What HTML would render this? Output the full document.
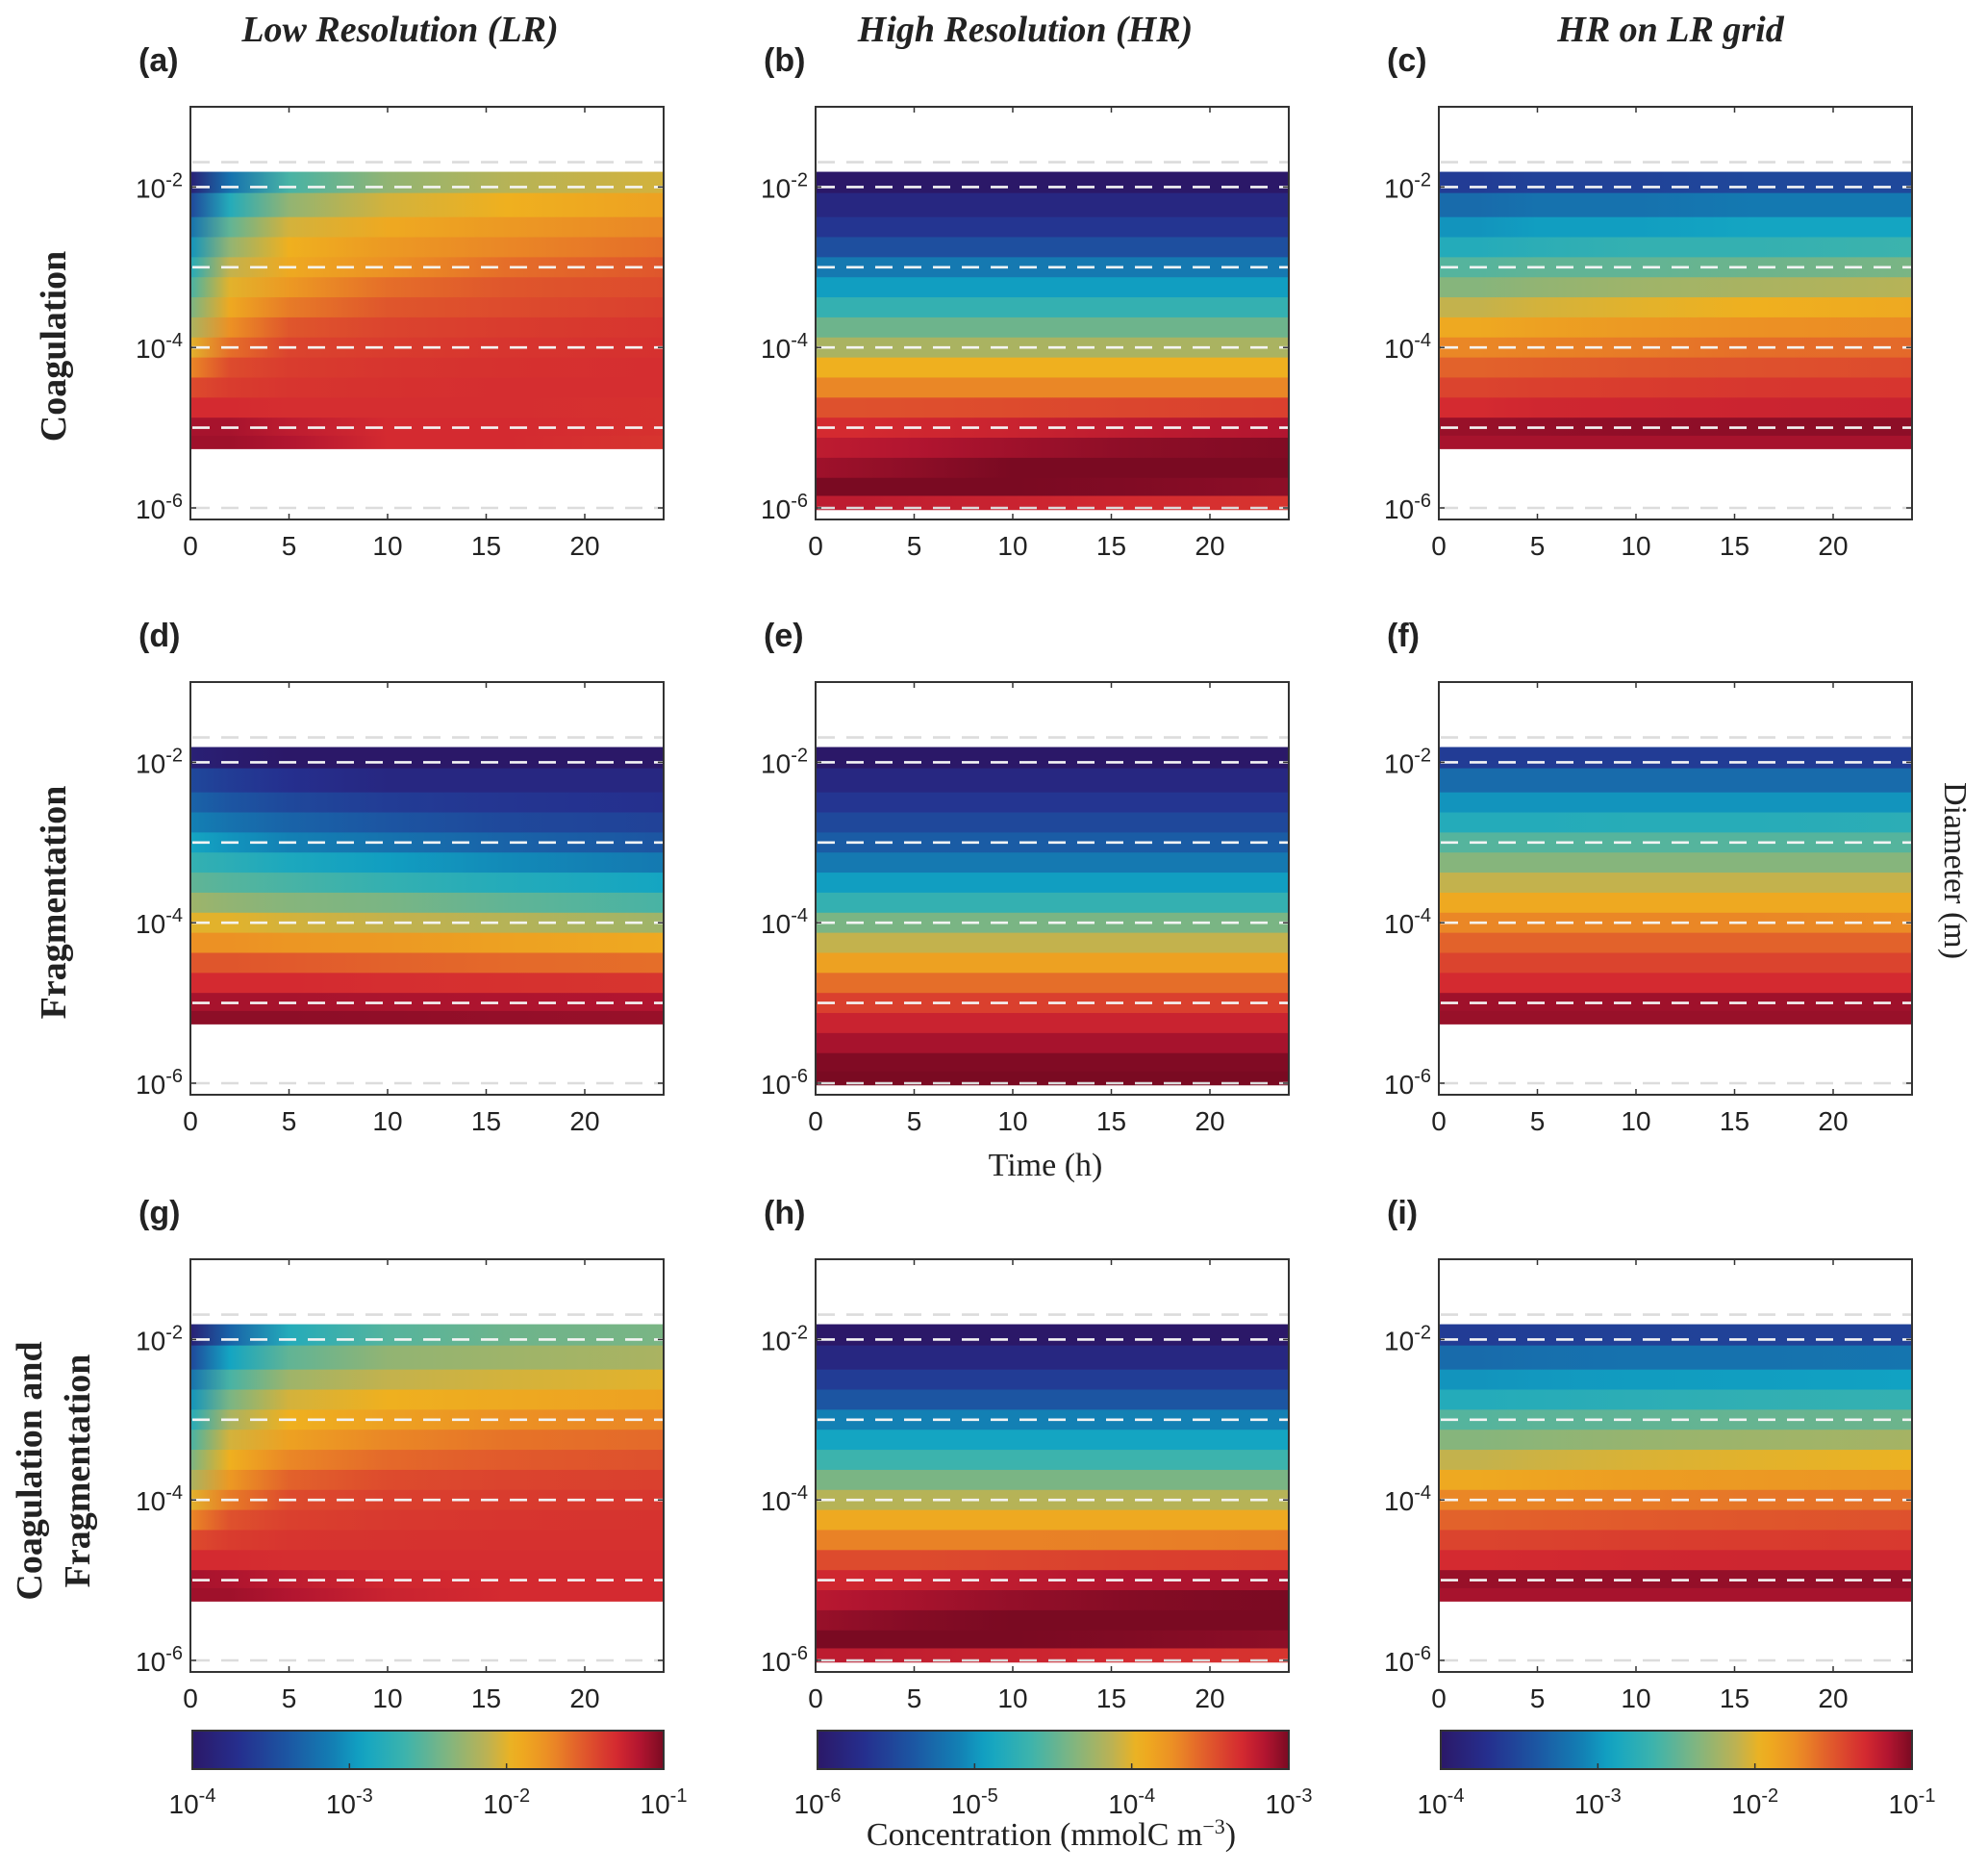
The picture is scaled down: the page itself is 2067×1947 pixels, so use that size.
<!DOCTYPE html>
<html><head><meta charset="utf-8">
<style>
body{margin:0;background:#fff;}
svg{display:block;}
text{font-family:"Liberation Sans",sans-serif;fill:#222;}
.serif{font-family:"Liberation Serif",serif;}
</style></head>
<body>
<svg id="fig" width="2067" height="1947" viewBox="0 0 2067 1947" xmlns="http://www.w3.org/2000/svg">
<defs id="defs"></defs>
</svg>
<script>
// ---------- data ----------
const times = [0, 2, 5, 10, 16, 24];
const xTicks = [0, 5, 10, 15, 20];
const yTickExps = [-2, -4, -6];
const cbExpsLR = [-4, -3, -2, -1];
const cbExpsHR = [-6, -5, -4, -3];
const lrDiam = [-1.9,-2.25,-2.5,-2.75,-3,-3.25,-3.5,-3.75,-4,-4.25,-4.5,-4.75,-5,-5.2];
const hrDiam = [-1.9,-2.25,-2.5,-2.75,-3,-3.25,-3.5,-3.75,-4,-4.25,-4.5,-4.75,-5,-5.25,-5.5,-5.75,-5.95];
const lrBand = [-1.81, -5.26];
const hrBand = [-1.81, -6.02];
const whiteDashExps = [-2, -3, -4, -5];
const greyDashExps = [-1.69, -6];

const valsA = [
[-3.9,-3.2,-2.6,-2.3,-2.15,-2.05],
[-3.5,-2.8,-2.3,-2.05,-1.95,-1.85],
[-3.2,-2.5,-2.05,-1.9,-1.8,-1.7],
[-3.0,-2.3,-1.95,-1.8,-1.7,-1.6],
[-2.8,-2.1,-1.9,-1.75,-1.6,-1.5],
[-2.6,-2.0,-1.8,-1.6,-1.5,-1.45],
[-2.4,-1.9,-1.65,-1.5,-1.45,-1.4],
[-2.2,-1.75,-1.5,-1.42,-1.38,-1.35],
[-2.0,-1.6,-1.42,-1.38,-1.35,-1.33],
[-1.7,-1.45,-1.38,-1.35,-1.33,-1.32],
[-1.45,-1.38,-1.35,-1.33,-1.32,-1.32],
[-1.3,-1.3,-1.32,-1.32,-1.32,-1.33],
[-1.12,-1.12,-1.2,-1.3,-1.3,-1.33],
[-1.1,-1.1,-1.15,-1.3,-1.3,-1.35]];
const valsD = [
[-3.9,-3.95,-4,-4,-4,-4],
[-3.5,-3.6,-3.7,-3.8,-3.8,-3.8],
[-3.3,-3.4,-3.5,-3.6,-3.65,-3.7],
[-3.1,-3.2,-3.3,-3.4,-3.5,-3.55],
[-2.9,-3.0,-3.1,-3.2,-3.3,-3.4],
[-2.7,-2.75,-2.85,-2.95,-3.05,-3.15],
[-2.5,-2.55,-2.6,-2.7,-2.8,-2.9],
[-2.25,-2.3,-2.35,-2.4,-2.5,-2.6],
[-2.0,-2.0,-2.05,-2.1,-2.15,-2.25],
[-1.75,-1.75,-1.78,-1.8,-1.85,-1.9],
[-1.5,-1.5,-1.52,-1.55,-1.58,-1.6],
[-1.3,-1.3,-1.3,-1.32,-1.33,-1.35],
[-1.12,-1.12,-1.12,-1.13,-1.14,-1.15],
[-1.05,-1.05,-1.05,-1.06,-1.07,-1.08]];
const valsG = [
[-3.9,-3.3,-2.8,-2.55,-2.45,-2.4],
[-3.5,-2.9,-2.5,-2.3,-2.25,-2.2],
[-3.2,-2.6,-2.25,-2.1,-2.05,-2.0],
[-3.0,-2.4,-2.05,-1.95,-1.9,-1.85],
[-2.8,-2.2,-1.95,-1.85,-1.75,-1.7],
[-2.6,-2.05,-1.85,-1.7,-1.62,-1.58],
[-2.4,-1.95,-1.7,-1.58,-1.52,-1.48],
[-2.2,-1.8,-1.55,-1.45,-1.42,-1.4],
[-2.0,-1.65,-1.45,-1.4,-1.38,-1.36],
[-1.7,-1.48,-1.4,-1.37,-1.35,-1.34],
[-1.45,-1.38,-1.35,-1.34,-1.33,-1.33],
[-1.3,-1.3,-1.32,-1.32,-1.32,-1.32],
[-1.12,-1.14,-1.2,-1.28,-1.3,-1.3],
[-1.1,-1.1,-1.15,-1.25,-1.3,-1.3]];
const valsC = [
[-3.6,-3.6,-3.55,-3.55,-3.5,-3.5],
[-3.25,-3.25,-3.2,-3.2,-3.15,-3.15],
[-3.0,-3.0,-2.95,-2.95,-2.9,-2.9],
[-2.8,-2.8,-2.75,-2.7,-2.7,-2.65],
[-2.55,-2.55,-2.5,-2.5,-2.45,-2.4],
[-2.35,-2.35,-2.3,-2.25,-2.2,-2.15],
[-2.1,-2.1,-2.05,-2.0,-1.95,-1.9],
[-1.9,-1.9,-1.85,-1.8,-1.75,-1.72],
[-1.7,-1.7,-1.68,-1.65,-1.6,-1.58],
[-1.55,-1.55,-1.53,-1.5,-1.48,-1.45],
[-1.42,-1.42,-1.4,-1.38,-1.36,-1.35],
[-1.3,-1.3,-1.28,-1.27,-1.26,-1.25],
[-1.08,-1.08,-1.07,-1.06,-1.05,-1.05],
[-1.12,-1.12,-1.12,-1.12,-1.12,-1.12]];
const valsF = [
[-3.6,-3.6,-3.6,-3.6,-3.6,-3.6],
[-3.25,-3.25,-3.25,-3.25,-3.25,-3.25],
[-3.0,-3.0,-3.0,-3.0,-3.0,-3.0],
[-2.8,-2.8,-2.8,-2.78,-2.78,-2.75],
[-2.55,-2.55,-2.55,-2.55,-2.55,-2.55],
[-2.35,-2.35,-2.35,-2.35,-2.35,-2.35],
[-2.1,-2.1,-2.1,-2.1,-2.1,-2.1],
[-1.9,-1.9,-1.9,-1.9,-1.9,-1.9],
[-1.7,-1.7,-1.7,-1.7,-1.7,-1.72],
[-1.55,-1.55,-1.55,-1.55,-1.55,-1.55],
[-1.42,-1.42,-1.42,-1.42,-1.42,-1.42],
[-1.3,-1.3,-1.3,-1.3,-1.3,-1.3],
[-1.1,-1.1,-1.1,-1.1,-1.1,-1.1],
[-1.08,-1.08,-1.08,-1.08,-1.08,-1.08]];
const valsI = [
[-3.6,-3.6,-3.58,-3.56,-3.55,-3.55],
[-3.25,-3.25,-3.22,-3.2,-3.2,-3.18],
[-3.0,-3.0,-2.98,-2.96,-2.95,-2.93],
[-2.8,-2.8,-2.78,-2.75,-2.72,-2.7],
[-2.55,-2.55,-2.52,-2.5,-2.48,-2.45],
[-2.35,-2.35,-2.32,-2.28,-2.25,-2.22],
[-2.1,-2.1,-2.07,-2.03,-2.0,-1.97],
[-1.9,-1.9,-1.87,-1.83,-1.8,-1.77],
[-1.7,-1.7,-1.69,-1.66,-1.63,-1.61],
[-1.55,-1.55,-1.54,-1.52,-1.5,-1.48],
[-1.42,-1.42,-1.41,-1.39,-1.38,-1.37],
[-1.3,-1.3,-1.29,-1.28,-1.27,-1.27],
[-1.08,-1.08,-1.08,-1.07,-1.07,-1.07],
[-1.12,-1.12,-1.12,-1.12,-1.12,-1.12]];
const valsB = [
[-6.0,-6.0,-6.0,-6.0,-6.0,-6.0],
[-5.8,-5.8,-5.8,-5.8,-5.8,-5.8],
[-5.65,-5.65,-5.65,-5.65,-5.65,-5.65],
[-5.45,-5.45,-5.45,-5.45,-5.45,-5.45],
[-5.15,-5.15,-5.15,-5.15,-5.15,-5.15],
[-4.95,-4.95,-4.95,-4.95,-4.95,-4.95],
[-4.7,-4.7,-4.7,-4.7,-4.7,-4.7],
[-4.45,-4.45,-4.45,-4.45,-4.45,-4.45],
[-4.2,-4.2,-4.2,-4.2,-4.2,-4.2],
[-3.95,-3.95,-3.95,-3.95,-3.95,-3.95],
[-3.7,-3.7,-3.7,-3.7,-3.7,-3.7],
[-3.48,-3.48,-3.47,-3.45,-3.43,-3.4],
[-3.3,-3.3,-3.28,-3.25,-3.2,-3.15],
[-3.2,-3.18,-3.15,-3.1,-3.05,-3.02],
[-3.1,-3.08,-3.05,-3.0,-2.98,-2.97],
[-3.0,-3.0,-3.0,-3.0,-3.02,-3.05],
[-3.2,-3.2,-3.22,-3.25,-3.3,-3.35]];
const valsE = [
[-6.0,-6.0,-6.0,-6.0,-6.0,-6.0],
[-5.8,-5.8,-5.8,-5.8,-5.8,-5.8],
[-5.65,-5.65,-5.65,-5.65,-5.65,-5.65],
[-5.5,-5.5,-5.5,-5.5,-5.5,-5.5],
[-5.35,-5.35,-5.35,-5.35,-5.35,-5.35],
[-5.15,-5.15,-5.15,-5.15,-5.15,-5.15],
[-4.95,-4.95,-4.95,-4.95,-4.95,-4.95],
[-4.7,-4.7,-4.7,-4.7,-4.7,-4.7],
[-4.4,-4.4,-4.4,-4.4,-4.4,-4.4],
[-4.1,-4.1,-4.1,-4.1,-4.1,-4.1],
[-3.85,-3.85,-3.85,-3.85,-3.85,-3.85],
[-3.6,-3.6,-3.6,-3.6,-3.6,-3.6],
[-3.4,-3.4,-3.4,-3.4,-3.4,-3.4],
[-3.25,-3.25,-3.25,-3.25,-3.25,-3.25],
[-3.12,-3.12,-3.12,-3.12,-3.12,-3.12],
[-3.02,-3.02,-3.02,-3.02,-3.02,-3.02],
[-3.0,-3.0,-3.0,-3.0,-3.0,-3.0]];
const valsH = [
[-6.0,-6.0,-6.0,-6.0,-6.0,-6.0],
[-5.8,-5.8,-5.8,-5.8,-5.8,-5.8],
[-5.6,-5.6,-5.6,-5.6,-5.6,-5.6],
[-5.4,-5.4,-5.4,-5.4,-5.4,-5.4],
[-5.1,-5.1,-5.1,-5.1,-5.1,-5.1],
[-4.9,-4.9,-4.9,-4.9,-4.9,-4.9],
[-4.65,-4.65,-4.65,-4.65,-4.65,-4.65],
[-4.4,-4.4,-4.4,-4.4,-4.4,-4.4],
[-4.15,-4.15,-4.15,-4.15,-4.15,-4.15],
[-3.9,-3.9,-3.9,-3.9,-3.9,-3.9],
[-3.68,-3.68,-3.68,-3.68,-3.67,-3.65],
[-3.45,-3.45,-3.45,-3.43,-3.4,-3.38],
[-3.28,-3.28,-3.25,-3.2,-3.15,-3.12],
[-3.18,-3.15,-3.12,-3.07,-3.03,-3.0],
[-3.08,-3.06,-3.03,-3.0,-2.98,-2.97],
[-3.0,-3.0,-3.0,-3.0,-3.02,-3.05],
[-3.2,-3.2,-3.22,-3.25,-3.3,-3.35]];

// ---------- colormap ----------
const cmap = [[0,'#2b1868'],[0.1,'#252f8e'],[0.2,'#1c55a2'],[0.3,'#1380b4'],[0.36,'#11a4c4'],[0.45,'#3cb3ad'],[0.55,'#86b57c'],[0.63,'#c0b250'],[0.68,'#efb21f'],[0.76,'#eb8c25'],[0.83,'#e0582c'],[0.9,'#d42a30'],[0.95,'#b21530'],[1,'#7a0a22']];
function hex2rgb(h){return [1,3,5].map(i=>parseInt(h.substr(i,2),16));}
function color(t){
  t=Math.max(0,Math.min(1,t));
  for(let i=1;i<cmap.length;i++){
    if(t<=cmap[i][0]){
      const a=cmap[i-1],b=cmap[i];const f=(t-a[0])/(b[0]-a[0]);
      const ca=hex2rgb(a[1]),cb=hex2rgb(b[1]);
      return 'rgb('+ca.map((v,k)=>Math.round(v+(cb[k]-v)*f)).join(',')+')';
    }
  }
  return cmap[cmap.length-1][1];
}

const NS='http://www.w3.org/2000/svg';
const svg=document.getElementById('fig');
const defs=document.getElementById('defs');
function el(tag,attrs,parent){const e=document.createElementNS(NS,tag);for(const k in attrs)e.setAttribute(k,attrs[k]);(parent||svg).appendChild(e);return e;}

const colX=[198,848,1496];
const rowY=[111,709,1309];
const PW=492, PH=429;
const panels=[
 {id:'a',c:0,r:0,d:lrDiam,v:valsA,band:lrBand,cb:cbExpsLR},
 {id:'b',c:1,r:0,d:hrDiam,v:valsB,band:hrBand,cb:cbExpsHR},
 {id:'c',c:2,r:0,d:lrDiam,v:valsC,band:lrBand,cb:cbExpsLR},
 {id:'d',c:0,r:1,d:lrDiam,v:valsD,band:lrBand,cb:cbExpsLR},
 {id:'e',c:1,r:1,d:hrDiam,v:valsE,band:hrBand,cb:cbExpsHR},
 {id:'f',c:2,r:1,d:lrDiam,v:valsF,band:lrBand,cb:cbExpsLR},
 {id:'g',c:0,r:2,d:lrDiam,v:valsG,band:lrBand,cb:cbExpsLR},
 {id:'h',c:1,r:2,d:hrDiam,v:valsH,band:hrBand,cb:cbExpsHR},
 {id:'i',c:2,r:2,d:lrDiam,v:valsI,band:lrBand,cb:cbExpsLR}];

function expLabel(parent,x,y,exp,anchor,name){
  const t=el('text',{x:x,y:y,'font-size':28,'text-anchor':anchor},parent);
  
  
  t.innerHTML='10<tspan dy="-12" font-size="20">'+(exp<0?'-':'')+Math.abs(exp)+'</tspan>';
  return t;
}

panels.forEach(p=>{
  const x0=colX[p.c], y0=rowY[p.r];
  const xs=t=>x0+t/24*PW;
  const ys=l=>y0+(-1-l)/(5.144)*PH;
  const cmin=p.cb[0], cmax=p.cb[p.cb.length-1];
  const g=el('g',{});
  
  
  el('rect',{x:x0,y:y0,width:PW,height:PH,fill:'#fff'},g);
  for(let i=0;i<p.d.length;i++){
    const top=i===0?p.band[0]:(p.d[i-1]+p.d[i])/2;
    const bot=i===p.d.length-1?p.band[1]:(p.d[i]+p.d[i+1])/2;
    const gid='gr-'+p.id+'-'+i;
    const lg=el('linearGradient',{id:gid,gradientUnits:'userSpaceOnUse',x1:xs(0),x2:xs(24),y1:0,y2:0},defs);
    times.forEach((t,j)=>{
      el('stop',{offset:(t/24),'stop-color':color((p.v[i][j]-cmin)/(cmax-cmin))},lg);
    });
    const r=el('rect',{x:xs(0),y:ys(top),width:xs(24)-xs(0),height:ys(bot)-ys(top)+0.6,fill:'url(#'+gid+')'},g);
    
    
  }
  whiteDashExps.forEach(e=>{
    const l=el('line',{x1:x0+2,x2:x0+PW,y1:ys(e),y2:ys(e),stroke:'#f4f4f4','stroke-width':2.6,'stroke-dasharray':'18 12'},g);
    
    
  });
  greyDashExps.forEach(e=>{
    const l=el('line',{x1:x0+2,x2:x0+PW,y1:ys(e),y2:ys(e),stroke:'#dcdcdc','stroke-width':2.6,'stroke-dasharray':'18 12'},g);
    
    
  });
  xTicks.forEach(t=>{
    el('line',{x1:xs(t),x2:xs(t),y1:y0,y2:y0+6,stroke:'#333','stroke-width':1.5},g);
    el('line',{x1:xs(t),x2:xs(t),y1:y0+PH,y2:y0+PH-6,stroke:'#333','stroke-width':1.5},g);
    const tl=el('text',{x:xs(t),y:y0+PH+37,'font-size':28,'text-anchor':'middle'},g);
    
    
    tl.textContent=t;
  });
  yTickExps.forEach(e=>{
    el('line',{x1:x0,x2:x0+6,y1:ys(e),y2:ys(e),stroke:'#333','stroke-width':1.5},g);
    el('line',{x1:x0+PW,x2:x0+PW-6,y1:ys(e),y2:ys(e),stroke:'#333','stroke-width':1.5},g);
    expLabel(g,x0-8,ys(e)+11,e,'end','y-tick-label');
  });
  const fr=el('rect',{x:x0,y:y0,width:PW,height:PH,fill:'none',stroke:'#333','stroke-width':2},g);
  
  
  const pl=el('text',{x:x0-54,y:y0-37,'font-size':34,'font-weight':'bold'},svg);
  
  
  pl.textContent='('+p.id+')';
});

[0,1,2].forEach(c=>{
  const exps=c===1?cbExpsHR:cbExpsLR;
  const x0=colX[c]+2, y0=1799, w=PW-2, h=40;
  const gid='cbg'+c;
  const lg=el('linearGradient',{id:gid,x1:0,x2:1,y1:0,y2:0},defs);
  for(let k=0;k<=40;k++){el('stop',{offset:k/40,'stop-color':color(k/40)},lg);}
  const r=el('rect',{x:x0,y:y0,width:w,height:h,fill:'url(#'+gid+')',stroke:'#333','stroke-width':2});
  
  
  exps.forEach((e,k)=>{
    const x=x0+k/(exps.length-1)*w;
    el('line',{x1:x,x2:x,y1:y0+h,y2:y0+h-6,stroke:'#333','stroke-width':1.5});
    expLabel(svg,x,y0+h+46,e,'middle','colorbar-tick-label');
  });
});

function txt(x,y,s,attrs,name){
  const t=el('text',Object.assign({x:x,y:y},attrs));
  
  
  t.textContent=s;return t;
}
const titleA={'font-size':38,'font-weight':'bold','font-style':'italic','text-anchor':'middle',class:'serif'};
txt(416,43,'Low Resolution (LR)',titleA,'column-title-lr');
txt(1066,43,'High Resolution (HR)',titleA,'column-title-hr');
txt(1737,43,'HR on LR grid',titleA,'column-title-hr-on-lr');
const rowA={'font-size':38,'font-weight':'bold','text-anchor':'middle',class:'serif'};
txt(0,0,'Coagulation',Object.assign({transform:'translate(68,360) rotate(-90)'},rowA),'row-label-coagulation');
txt(0,0,'Fragmentation',Object.assign({transform:'translate(68,938) rotate(-90)'},rowA),'row-label-fragmentation');
txt(0,0,'Coagulation and',Object.assign({transform:'translate(43,1529) rotate(-90)'},rowA),'row-label-combined-1');
txt(0,0,'Fragmentation',Object.assign({transform:'translate(93,1529) rotate(-90)'},rowA),'row-label-combined-2');
txt(1087,1222,'Time (h)',{'font-size':34,'text-anchor':'middle',class:'serif'},'x-axis-title');
txt(0,0,'Diameter (m)',{'font-size':34,'text-anchor':'middle',class:'serif',transform:'translate(2022,905) rotate(90)'},'y-axis-title');
const ct=el('text',{x:1093,y:1918,'font-size':34,'text-anchor':'middle',class:'serif'});


ct.innerHTML='Concentration (mmolC m<tspan dy="-12" font-size="22">−3</tspan><tspan dy="12">)</tspan>';
</script>
</body></html>
